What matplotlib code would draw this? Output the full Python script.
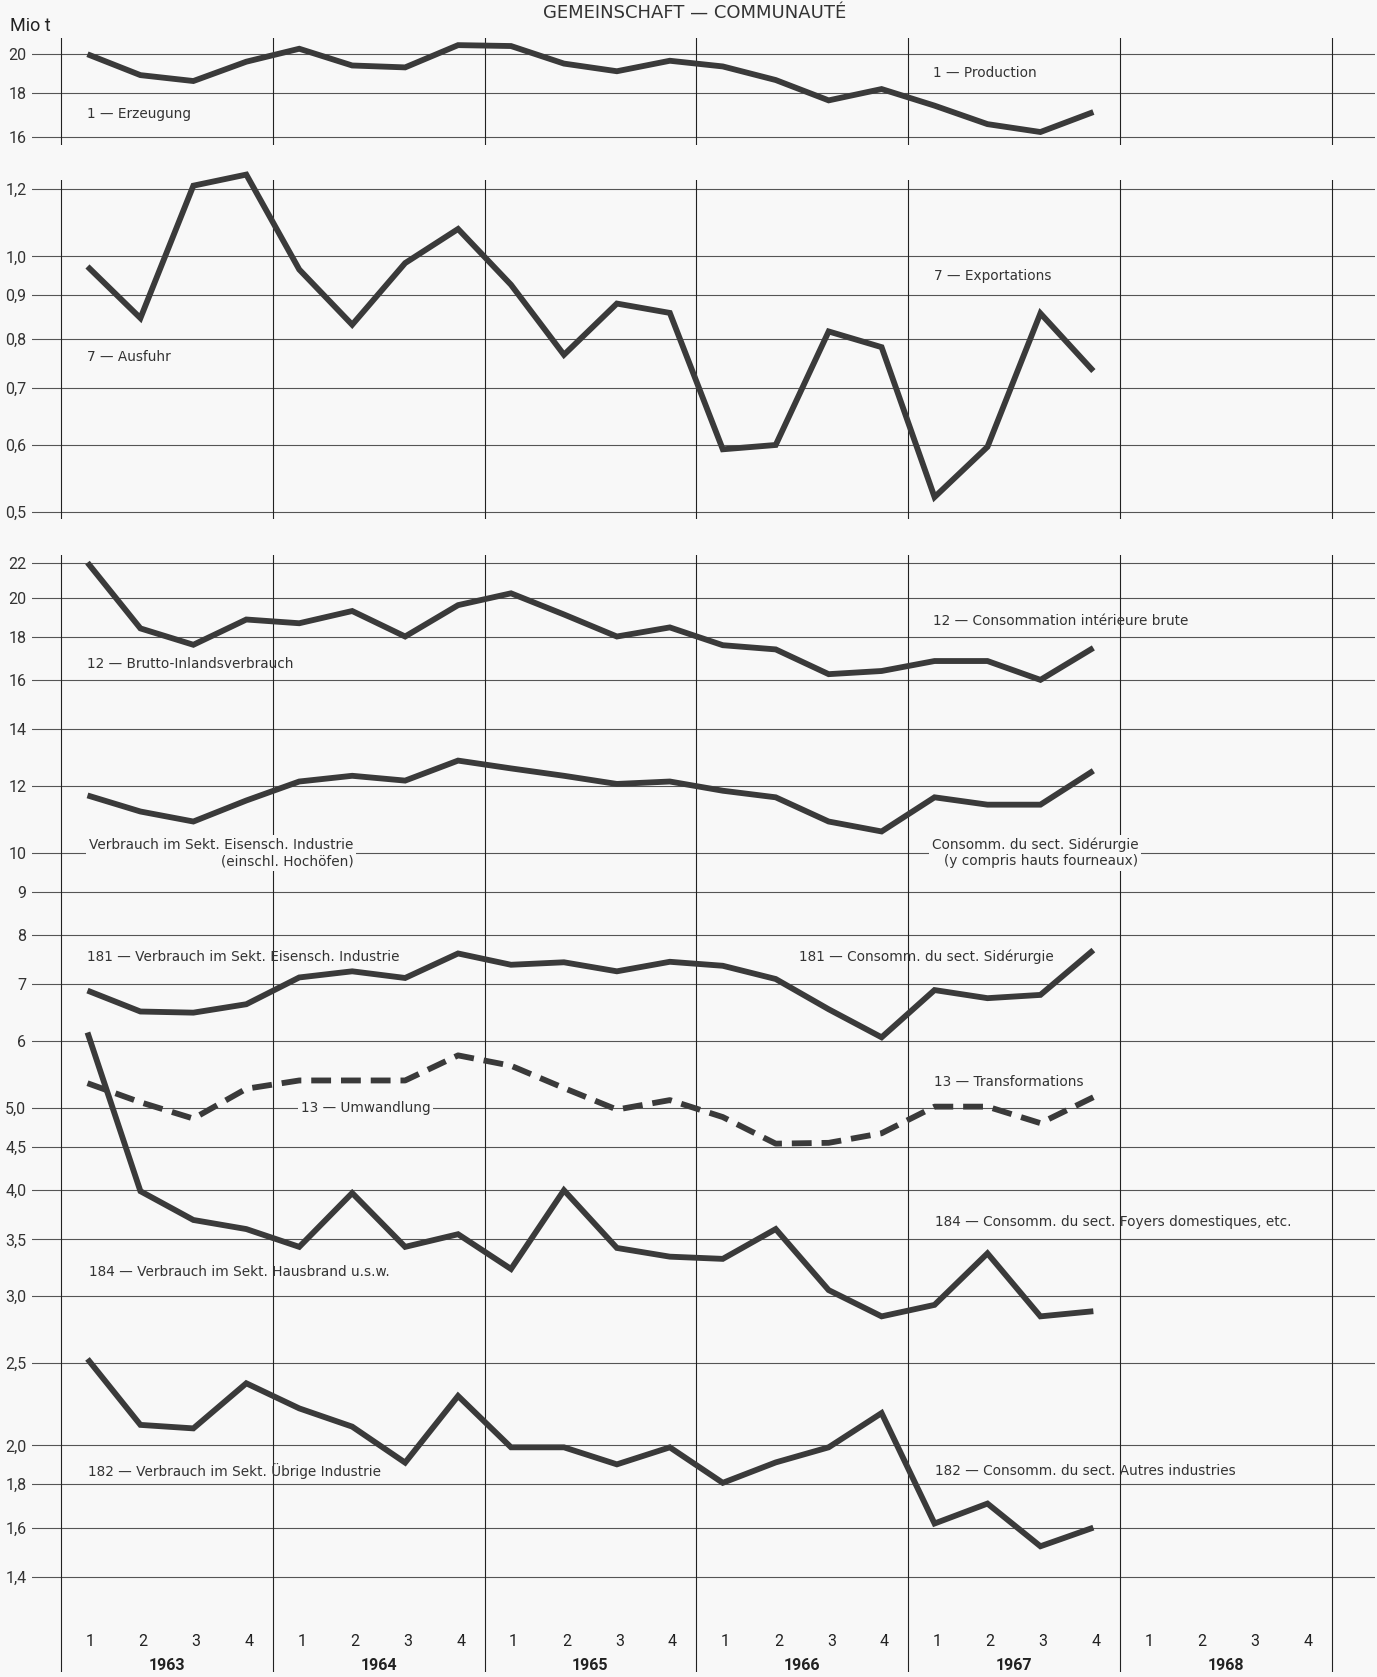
import matplotlib
matplotlib.use("Agg")
import numpy as np
from matplotlib import pyplot as plt

# quarters 1963 Q1 .. 1967 Q4 (x axis slots run 1963..1968)
years = ["1963", "1964", "1965", "1966", "1967", "1968"]
quarters = ["1", "2", "3", "4"]

# Mio t
erzeugung = [20.0, 18.9, 18.6, 19.6, 20.3, 19.4, 19.3, 20.5, 20.45, 19.5,
             19.1, 19.65, 19.35, 18.65, 17.65, 18.2, 17.4, 16.55, 16.2, 17.1]
ausfuhr = [0.973, 0.846, 1.211, 1.248, 0.965, 0.831, 0.982, 1.077, 0.926, 0.766,
           0.880, 0.858, 0.593, 0.600, 0.816, 0.782, 0.521, 0.597, 0.857, 0.733]
brutto = [22.0, 18.4, 17.6, 18.85, 18.66, 19.29, 18.0, 19.6, 20.24, 19.11,
          18.0, 18.45, 17.58, 17.38, 16.25, 16.39, 16.84, 16.84, 16.0, 17.45]
eisen_hoch = [11.69, 11.19, 10.89, 11.53, 12.14, 12.33, 12.17, 12.85, 12.58, 12.33,
              12.06, 12.14, 11.84, 11.63, 10.89, 10.60, 11.63, 11.40, 11.40, 12.50]
eisen_181 = [6.88, 6.50, 6.48, 6.63, 7.13, 7.25, 7.12, 7.61, 7.38, 7.43,
             7.25, 7.44, 7.36, 7.10, 6.54, 6.06, 6.89, 6.74, 6.80, 7.68]
umwandlung = [5.35, 5.08, 4.86, 5.27, 5.39, 5.39, 5.39, 5.77, 5.61, 5.28,
              4.98, 5.11, 4.88, 4.54, 4.55, 4.67, 5.02, 5.02, 4.80, 5.15]
hausbrand = [6.14, 3.99, 3.69, 3.60, 3.43, 3.97, 3.43, 3.55, 3.23, 4.0,
             3.42, 3.34, 3.32, 3.60, 3.05, 2.84, 2.93, 3.37, 2.84, 2.88]
uebrige = [2.53, 2.115, 2.095, 2.368, 2.212, 2.105, 1.909, 2.288, 1.99, 1.99,
           1.90, 1.99, 1.807, 1.91, 1.99, 2.184, 1.618, 1.708, 1.521, 1.600]

top_ticks = [16, 18, 20]
top_labels = ["16", "18", "20"]
mid_ticks = [0.5, 0.6, 0.7, 0.8, 0.9, 1.0, 1.2]
mid_labels = ["0,5", "0,6", "0,7", "0,8", "0,9", "1,0", "1,2"]
bot_ticks = [1.4, 1.6, 1.8, 2.0, 2.5, 3.0, 3.5, 4.0, 4.5, 5.0,
             6, 7, 8, 9, 10, 12, 14, 16, 18, 20, 22]
bot_labels = ["1,4", "1,6", "1,8", "2,0", "2,5", "3,0", "3,5", "4,0", "4,5", "5,0",
              "6", "7", "8", "9", "10", "12", "14", "16", "18", "20", "22"]

W, H = 1377, 1677
LINE = "#3a3a3a"
BG = "#f8f8f8"
TICKFONT = ["Liberation Sans Narrow", "Roboto", "DejaVu Sans"]
LABFONT = "DejaVu Sans"

fig = plt.figure(figsize=(W / 100, H / 100), dpi=100, facecolor=BG)
x = np.arange(len(erzeugung)) + 0.5


def make_ax(top_px, bot_px, ylim, ticks, labels):
    ax = fig.add_axes([32 / W, 1 - bot_px / H, 1343 / W, (bot_px - top_px) / H])
    ax.set_facecolor(BG)
    ax.set_yscale("log")
    ax.set_ylim(*ylim)
    ax.set_xlim(-0.548, 24.82)
    for s in ax.spines.values():
        s.set_visible(False)
    ax.yaxis.set_minor_locator(matplotlib.ticker.NullLocator())
    ax.set_yticks(ticks)
    ax.set_yticklabels(labels, family=TICKFONT, fontsize=11.5, color="#333")
    ax.tick_params(axis="y", length=0, pad=4)
    ax.set_xticks([])
    for t in ticks:
        ax.axhline(t, color="#555555", lw=0.8, zorder=1)
    for v in range(0, 25, 4):
        ax.axvline(v, color="#222222", lw=0.8, zorder=1)
    return ax


def label(xp, yp, s, box=False, **kw):
    # xp, yp in figure pixels from top-left
    t = fig.text(xp / W, 1 - yp / H, s, fontsize=9.8, family=LABFONT,
                 color="#333", va="center", ha="left", zorder=5, **kw)
    if box:
        t.set_bbox(dict(facecolor=BG, edgecolor="none", pad=2))
    return t


lw = 4.2
style = dict(color=LINE, lw=lw, solid_joinstyle="miter", solid_capstyle="butt",
             zorder=3, clip_on=False)

ax1 = make_ax(38, 145, (15.64, 20.90), top_ticks, top_labels)
ax1.plot(x, erzeugung, **style)

ax2 = make_ax(180, 519, (0.491, 1.2298), mid_ticks, mid_labels)
ax2.plot(x, ausfuhr, **style)

ax3 = make_ax(555, 1672, (1.081, 22.46), bot_ticks, bot_labels)
ax3.plot(x, brutto, **style)
ax3.plot(x, eisen_hoch, **style)
ax3.plot(x, eisen_181, **style)
ax3.plot(x, hausbrand, **style)
ax3.plot(x, uebrige, **style)
ax3.plot(x, umwandlung, color=LINE, lw=lw, linestyle=(0, (3.4, 1.7)),
         dash_capstyle="butt", zorder=3)

# x axis labels: quarters and years
for yi, yr in enumerate(years):
    for qi, q in enumerate(quarters):
        ax3.text(yi * 4 + qi + 0.55, 0.027, q, transform=ax3.get_xaxis_transform(),
                 ha="center", va="center", family=TICKFONT, fontsize=11.5, color="#222")
    ax3.text(yi * 4 + 2, 0.006, yr, transform=ax3.get_xaxis_transform(),
             ha="center", va="center", family=TICKFONT, fontsize=11.5,
             fontweight="bold", color="#222", clip_on=False)

fig.text(695 / W, 1 - 13 / H, "GEMEINSCHAFT — COMMUNAUTÉ", ha="center", va="center",
         fontsize=13, family=LABFONT, color="#333")
fig.text(10 / W, 1 - 26 / H, "Mio t", ha="left", va="center", fontsize=13,
         family=TICKFONT, color="#222")

label(87, 114, "1 — Erzeugung")
label(933, 73, "1 — Production")
label(87, 357, "7 — Ausfuhr")
label(934, 276, "7 — Exportations")
label(87, 664, "12 — Brutto-Inlandsverbrauch")
label(933, 621, "12 — Consommation intérieure brute")
label(89, 853, "Verbrauch im Sekt. Eisensch. Industrie\n(einschl. Hochöfen)",
      box=True, multialignment="right", linespacing=1.2)
label(932, 853, "Consomm. du sect. Sidérurgie\n(y compris hauts fourneaux)",
      box=True, multialignment="right", linespacing=1.2)
label(87, 957, "181 — Verbrauch im Sekt. Eisensch. Industrie")
label(799, 957, "181 — Consomm. du sect. Sidérurgie")
label(301, 1108, "13 — Umwandlung", box=True)
label(934, 1082, "13 — Transformations")
label(89, 1272, "184 — Verbrauch im Sekt. Hausbrand u.s.w.")
label(935, 1222, "184 — Consomm. du sect. Foyers domestiques, etc.")
label(88, 1471, "182 — Verbrauch im Sekt. Übrige Industrie")
label(935, 1471, "182 — Consomm. du sect. Autres industries")

fig.savefig("out.png", dpi=100, facecolor=BG)
